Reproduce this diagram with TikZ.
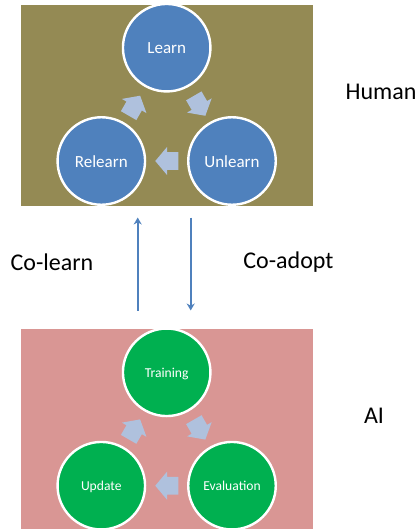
\documentclass[tikz,border=0pt]{standalone}
\usepackage{fontspec}
\setmainfont{Carlito}
\usetikzlibrary{arrows.meta,shapes.arrows}
\definecolor{olivebox}{HTML}{948A54}
\definecolor{pinkbox}{HTML}{D99694}
\definecolor{bluecircle}{HTML}{4F81BD}
\definecolor{greencircle}{HTML}{00B050}
\definecolor{palearrow}{HTML}{AFC1DD}
\begin{document}
\begin{tikzpicture}[x=1pt, y=-1pt,
		panel/.style={inner sep=0, minimum width=292pt, minimum height=201pt},
		main/.style={draw=white, line width=2.4pt, circle, inner sep=0, minimum size=87.5pt, text=white, text height=12.4pt, text depth=0pt, font=\fontsize{17}{20}\selectfont},
		human/.style={main, fill=bluecircle},
		ai/.style={main, fill=greencircle, text height=10pt, font=\fontsize{13.6}{16}\selectfont},
		turn/.style={single arrow, fill=palearrow, inner xsep=0, inner ysep=8.7pt, minimum height=23pt, single arrow head extend=5.3pt, single arrow tip angle=100},
		link/.style={draw=bluecircle, line width=2.2pt, -{Stealth[length=7pt, width=8pt]}},
		side/.style={font=\fontsize{24}{28}\selectfont}]
		\useasboundingbox (0,0) rectangle (418,529);

		\node[panel, fill=olivebox] (humanbox) at (167,105.5) {};
		\node[human] (learn) at (166.7,47.7) {Learn};
		\node[human] (unlearn) at (232,161) {Unlearn};
		\node[human] (relearn) at (101.3,161) {Relearn};
		\node[turn, rotate=-60] (t1) at (197.7,102.6) {};
		\node[turn, rotate=180] (t2) at (170.5,161) {};
		\node[turn, rotate=60] (t3) at (132.5,108.9) {};

		\node[panel, fill=pinkbox] (aibox) at (167,429) {};
		\node[ai] (training) at (166.7,372.3) {Training};
		\node[ai] (evaluation) at (232,485.7) {Evaluation};
		\node[ai] (update) at (101.3,485.7) {Update};
		\node[turn, rotate=-60] (t4) at (197.7,426.4) {};
		\node[turn, rotate=180] (t5) at (170.5,485.7) {};
		\node[turn, rotate=60] (t6) at (132.5,432.6) {};

		\coordinate (upstart) at (137.7,310.5);
		\coordinate (upend) at (137.7,217.5);
		\coordinate (downstart) at (190.7,217.5);
		\coordinate (downend) at (190.7,310.5);
		\draw[link] (upstart) -- (upend);
		\draw[link] (downstart) -- (downend);

		\node[side] (humanlabel) at (381,92) {Human};
		\node[side] (ailabel) at (374,416) {AI};
		\node[side] (colearn) at (52,262) {Co-learn};
		\node[side] (coadopt) at (288.5,262) {Co-adopt};
	\end{tikzpicture}
\end{document}
